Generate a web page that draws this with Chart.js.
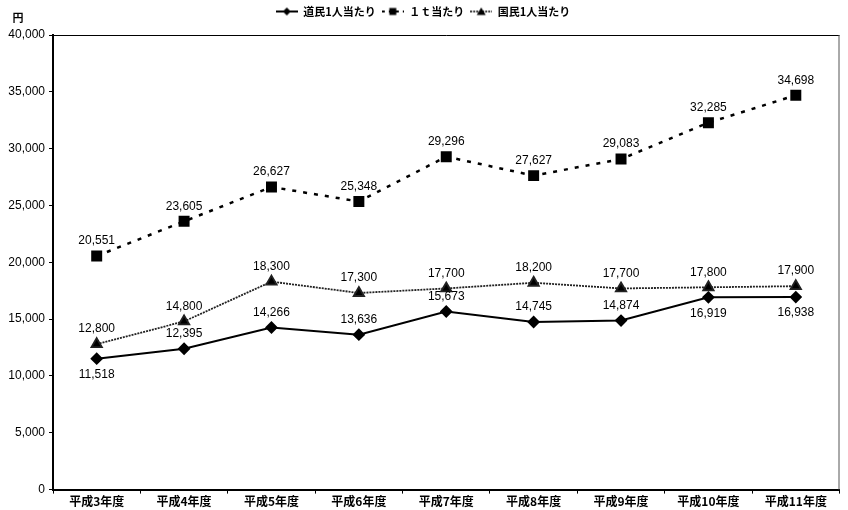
<!DOCTYPE html>
<html>
<head>
<meta charset="utf-8">
<script src="https://cdn.jsdelivr.net/npm/chart.js@4/dist/chart.umd.min.js"></script>
<style>
  html, body { margin: 0; padding: 0; background: #fff; }
  #wrap { width: 848px; height: 510px; }
</style>
</head>
<body>
<div id="wrap"><canvas id="c" width="848" height="510"></canvas></div>
<script>
// 年度別の一人当たり・1t当たりの費用（円）
const categories = ['平成3年度', '平成4年度', '平成5年度', '平成6年度', '平成7年度', '平成8年度', '平成9年度', '平成10年度', '平成11年度'];
const perResident = [11518, 12395, 14266, 13636, 15673, 14745, 14874, 16919, 16938];
const perTon = [20551, 23605, 26627, 25348, 29296, 27627, 29083, 32285, 34698];
const perNational = [12800, 14800, 18300, 17300, 17700, 18200, 17700, 17800, 17900];
const seriesNames = ['道民1人当たり', '１ｔ当たり', '国民1人当たり'];
const yTicks = [0, 5000, 10000, 15000, 20000, 25000, 30000, 35000, 40000];

const JP = '"Noto Sans CJK JP", "Liberation Sans", sans-serif';
const NUM = '"Liberation Sans", Arial, sans-serif';

// legend swatch: short line segment with the series marker in the middle
function swatch(dash, lineWidth, marker) {
  const cv = document.createElement('canvas');
  cv.width = 22; cv.height = 12;
  const g = cv.getContext('2d');
  g.strokeStyle = '#000'; g.fillStyle = '#000';
  g.lineWidth = lineWidth;
  g.setLineDash(dash);
  g.beginPath(); g.moveTo(0, 6); g.lineTo(22, 6); g.stroke();
  g.setLineDash([]);
  g.beginPath();
  if (marker === 'diamond') { g.moveTo(11, 2); g.lineTo(15, 6); g.lineTo(11, 10); g.lineTo(7, 6); }
  else if (marker === 'square') { g.rect(7.5, 2.5, 7, 7); }
  else { g.moveTo(11, 2); g.lineTo(15.5, 9.5); g.lineTo(6.5, 9.5); }
  g.closePath(); g.fill();
  return cv;
}

const swatches = [swatch([], 2, 'diamond'), swatch([3, 4], 2, 'square'), swatch([2, 1], 1.5, 'triangle')];

// extra room between the legend and the plot
const legendGap = {
  id: 'legendGap',
  beforeInit(chart) {
    const fit = chart.legend.fit;
    chart.legend.fit = function () {
      fit.call(this);
      this.height += 8;
    };
  }
};

// value labels next to each point
const valueLabels = {
  id: 'valueLabels',
  afterDatasetsDraw(chart) {
    const ctx = chart.ctx;
    ctx.save();
    ctx.font = '12px ' + NUM;
    ctx.fillStyle = '#000';
    ctx.textAlign = 'center';
    ctx.textBaseline = 'middle';
    chart.data.datasets.forEach((ds, i) => {
      const meta = chart.getDatasetMeta(i);
      meta.data.forEach((pt, j) => {
        const below = ds.labelBelow && ds.labelBelow.includes(j);
        const y = below ? pt.y + 16 : pt.y - 15;
        ctx.fillText(ds.data[j].toLocaleString('en-US'), pt.x, y);
      });
    });
    ctx.restore();
  }
};

// unit label and frame around the plot area
const frame = {
  id: 'frame',
  afterDraw(chart) {
    const { ctx, chartArea: a } = chart;
    ctx.save();
    ctx.strokeStyle = '#000';
    ctx.lineWidth = 1;
    ctx.beginPath();
    ctx.moveTo(a.left, a.top + 0.5); ctx.lineTo(a.right, a.top + 0.5);
    ctx.stroke();
    ctx.strokeStyle = '#555';
    ctx.beginPath();
    ctx.moveTo(a.right - 0.5, a.top); ctx.lineTo(a.right - 0.5, a.bottom);
    ctx.stroke();
    ctx.font = 'bold 11px ' + JP;
    ctx.fillStyle = '#000';
    ctx.textAlign = 'center';
    ctx.textBaseline = 'middle';
    ctx.fillText('円', 18, a.top - 17);
    ctx.restore();
  }
};

new Chart(document.getElementById('c'), {
  type: 'line',
  data: {
    labels: categories,
    datasets: [
      {
        label: seriesNames[0], data: perResident,
        borderColor: '#000', backgroundColor: '#000', borderWidth: 2,
        pointStyle: 'rectRot', pointRadius: 5, pointHoverRadius: 5,
        tension: 0, labelBelow: [0, 7, 8]
      },
      {
        label: seriesNames[1], data: perTon,
        borderColor: '#000', backgroundColor: '#000', borderWidth: 2.5, borderDash: [4, 7],
        pointStyle: 'rect', pointRadius: 6, pointHoverRadius: 6,
        tension: 0
      },
      {
        label: seriesNames[2], data: perNational,
        borderColor: '#222', backgroundColor: '#000', borderWidth: 1.8, borderDash: [2, 1],
        pointStyle: 'triangle', pointRadius: 6, pointHoverRadius: 6,
        tension: 0
      }
    ]
  },
  options: {
    responsive: false,
    animation: false,
    layout: { padding: { left: 0, right: 2, top: 0, bottom: 0 } },
    plugins: {
      tooltip: { enabled: false },
      legend: {
        position: 'top',
        labels: {
          usePointStyle: true,
          pointStyleWidth: 22,
          boxHeight: 10,
          padding: 6,
          color: '#000',
          font: { family: JP, size: 11, weight: 'bold' },
          generateLabels(chart) {
            return chart.data.datasets.map((ds, i) => ({
              text: ds.label, pointStyle: swatches[i], datasetIndex: i,
              fillStyle: '#000', strokeStyle: '#000', lineWidth: 0, hidden: false
            }));
          }
        }
      }
    },
    scales: {
      x: {
        offset: true,
        grid: { display: true, drawOnChartArea: false, offset: true, tickLength: 4, color: '#000' },
        border: { display: true, color: '#000', width: 2 },
        ticks: { color: '#000', font: { family: JP, size: 12, weight: 'bold' }, padding: 1, maxRotation: 0, autoSkip: false }
      },
      y: {
        min: 0, max: 40000,
        afterBuildTicks(scale) { scale.ticks = yTicks.map(v => ({ value: v })); },
        afterFit(scale) { scale.width = 53; },
        grid: { display: true, drawOnChartArea: false, tickLength: 4, color: '#000' },
        border: { display: true, color: '#000', width: 2 },
        ticks: {
          color: '#000', font: { family: NUM, size: 12 }, padding: 4,
          callback: v => v.toLocaleString('en-US')
        }
      }
    }
  },
  plugins: [legendGap, valueLabels, frame]
});
</script>
</body>
</html>
